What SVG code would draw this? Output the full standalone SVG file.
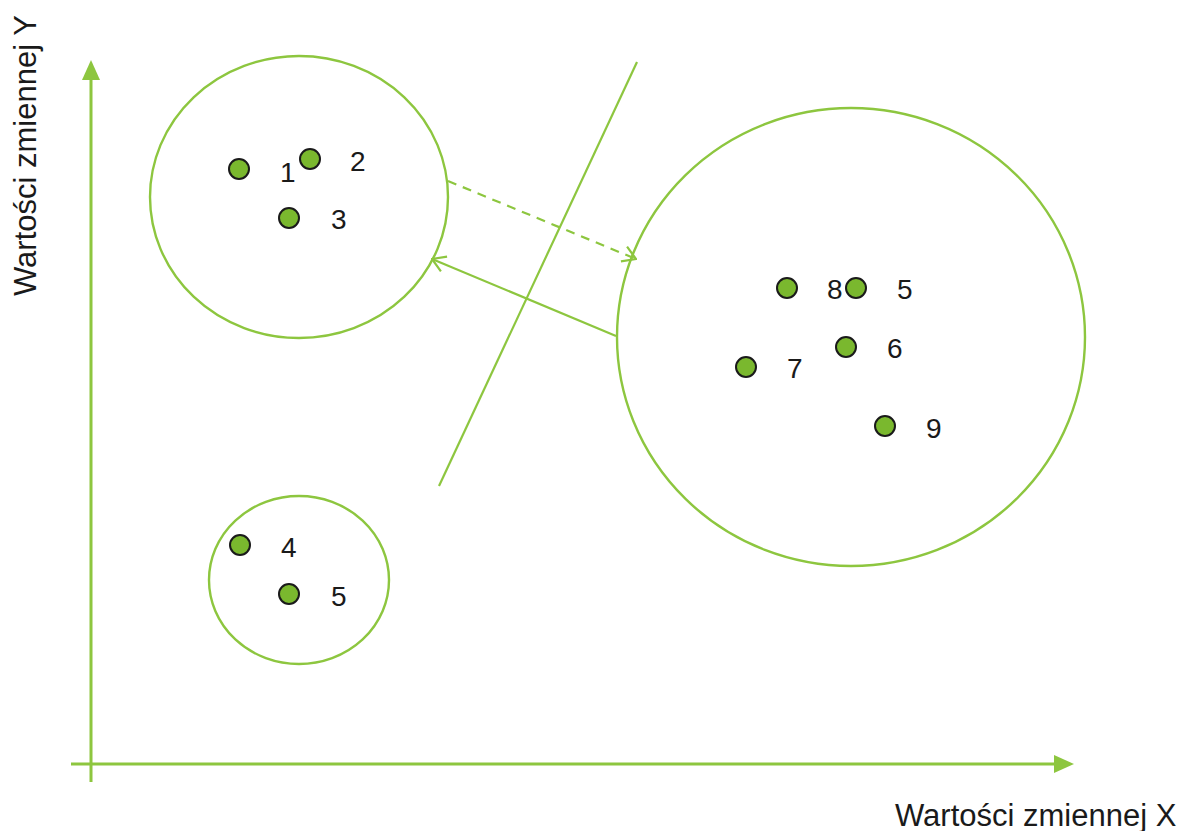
<svg xmlns="http://www.w3.org/2000/svg" width="1182" height="831" viewBox="0 0 1182 831">
  <style>
    .axis { stroke: #8dc63f; stroke-width: 3; fill: none; }
    .ring { stroke: #8dc63f; stroke-width: 2.4; fill: none; }
    .link { stroke: #8dc63f; stroke-width: 2.2; fill: none; }
    .dot { fill: #7ab82e; stroke: #1a1a1a; stroke-width: 2; }
    .num { font-family: "Liberation Sans", Arial, sans-serif; font-size: 28px; fill: #1a1a1a; }
    .title { font-family: "Liberation Sans", Arial, sans-serif; font-size: 31px; fill: #1a1a1a; }
  </style>
  <defs>
    <marker id="openHead" viewBox="0 0 20 20" refX="19" refY="10" markerWidth="20" markerHeight="20" markerUnits="userSpaceOnUse" orient="auto">
      <path d="M6,2 L19,10 L6,18" fill="none" stroke="#8dc63f" stroke-width="2.2"/>
    </marker>
  </defs>

  <!-- axes -->
  <g id="axes">
    <line class="axis" x1="91" y1="782" x2="91" y2="78"/>
    <path d="M82,80 L91,60 L100,80 Z" fill="#8dc63f"/>
    <line class="axis" x1="71" y1="764" x2="1056" y2="764"/>
    <path d="M1054,755 L1074,764 L1054,773 Z" fill="#8dc63f"/>
    <text class="title" x="895" y="826">Wartości zmiennej X</text>
    <text class="title" transform="translate(36,296) rotate(-90)">Wartości zmiennej Y</text>
  </g>

  <!-- cluster boundaries -->
  <g id="cluster-a"><ellipse class="ring" cx="299" cy="197" rx="149" ry="141"/></g>
  <g id="cluster-b"><ellipse class="ring" cx="299" cy="580" rx="90" ry="84"/></g>
  <g id="cluster-c"><ellipse class="ring" cx="851" cy="337" rx="234" ry="229"/></g>

  <!-- separating line and transfer arrows -->
  <g id="connectors">
    <line class="link" x1="637" y1="62" x2="439" y2="486"/>
    <line class="link" x1="448" y1="181" x2="636" y2="259" stroke-dasharray="9,7" marker-end="url(#openHead)"/>
    <line class="link" x1="616" y1="336" x2="432" y2="259" marker-end="url(#openHead)"/>
  </g>

  <!-- points -->
  <g id="p1"><circle class="dot" cx="239" cy="169" r="10"/><text class="num" x="280" y="182">1</text></g>
  <g id="p2"><circle class="dot" cx="310" cy="159" r="10"/><text class="num" x="350" y="171">2</text></g>
  <g id="p3"><circle class="dot" cx="289" cy="218" r="10"/><text class="num" x="331" y="229">3</text></g>
  <g id="p8"><circle class="dot" cx="787" cy="288" r="10"/><text class="num" x="827" y="299">8</text></g>
  <g id="p5a"><circle class="dot" cx="856" cy="288" r="10"/><text class="num" x="897" y="299">5</text></g>
  <g id="p6"><circle class="dot" cx="846" cy="347" r="10"/><text class="num" x="887" y="358">6</text></g>
  <g id="p7"><circle class="dot" cx="746" cy="367" r="10"/><text class="num" x="787" y="378">7</text></g>
  <g id="p9"><circle class="dot" cx="885" cy="426" r="10"/><text class="num" x="926" y="438">9</text></g>
  <g id="p4"><circle class="dot" cx="240" cy="545" r="10"/><text class="num" x="281" y="557">4</text></g>
  <g id="p5b"><circle class="dot" cx="289" cy="594" r="10"/><text class="num" x="331" y="606">5</text></g>
</svg>
